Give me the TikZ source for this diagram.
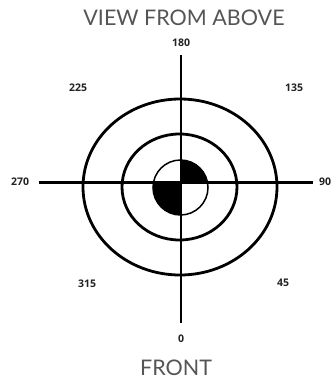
\documentclass[tikz,border=0pt]{standalone}
\usepackage{fontspec}
\setmainfont{Open Sans}
\newfontfamily\titlefont{Lato}
\definecolor{titlegray}{HTML}{555555}
\definecolor{numink}{HTML}{222222}
\begin{document}
\begin{tikzpicture}[x=1pt,y=-1pt,
  num/.style={font=\fontsize{10.5}{12}\selectfont\bfseries, text=numink, inner sep=0pt},
  ttl/.style={font=\titlefont\fontsize{21.5}{25}\selectfont, text=titlegray, inner sep=0pt},
  ring/.style={line width=2.8pt, draw=black},
  thinring/.style={line width=1.5pt, draw=black},
  axis/.style={line width=2.4pt, draw=black}]
\useasboundingbox (0,0) rectangle (336,381);
% titles
\node[ttl] (above) at (184,18) {VIEW FROM ABOVE};
\node[ttl] (front) at (176,368) {FRONT};
% angle labels
\node[num] (n180) at (181,43) {180};
\node[num] (n225) at (78,88) {225};
\node[num] (n135) at (294,88) {135};
\node[num] (n270) at (20,182) {270};
\node[num] (n90) at (325,182) {90};
\node[num] (n315) at (87,284) {315};
\node[num] (n45) at (283,283) {45};
\node[num] (n0) at (181,339) {0};
% axis ends
\coordinate (top) at (181,55);
\coordinate (bot) at (181,323);
\coordinate (lft) at (39,182.5);
\coordinate (rgt) at (313,182.5);
\coordinate (ctr) at (180.5,187.5);
% filled quadrants
\begin{scope}
  \clip (181,182.5) rectangle (215,150);
  \fill[black] (ctr) circle (27.5);
\end{scope}
\begin{scope}
  \clip (181,182.5) rectangle (145,220);
  \fill[black] (ctr) circle (27.5);
\end{scope}
% rings
\draw[ring] (180,187) ellipse (97 and 88);
\draw[ring] (179.5,187) ellipse (57.5 and 53);
\draw[thinring] (ctr) circle (27.5);
% axes
\draw[axis] (top) -- (bot);
\draw[axis] (lft) -- (rgt);
\end{tikzpicture}
\end{document}
